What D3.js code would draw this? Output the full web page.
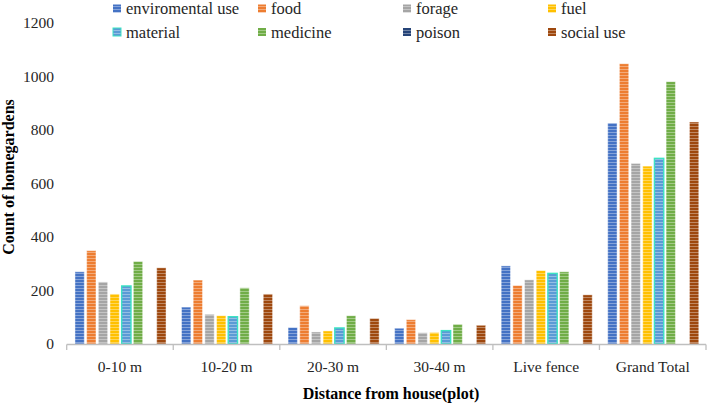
<!DOCTYPE html>
<html>
<head>
<meta charset="utf-8">
<script src="https://cdn.jsdelivr.net/npm/d3@7"></script>
<style>
  html, body { margin: 0; padding: 0; background: #fff; }
  svg { display: block; }
</style>
</head>
<body>
<svg id="chart" width="708" height="404"></svg>
<script>
// ---- data ----
const categories = ["0-10 m", "10-20 m", "20-30 m", "30-40 m", "Live fence", "Grand Total"];
const seriesNames = ["enviromental use", "food", "forage", "fuel", "material", "medicine", "poison", "social use"];
const enviromentalUse = [270, 138, 62, 59, 292, 826];
const food            = [349, 239, 143, 91, 219, 1048];
const forage          = [232, 111, 45, 42, 240, 675];
const fuel            = [187, 106, 49, 43, 275, 665];
const material        = [217, 102, 60, 50, 264, 694];
const medicine        = [309, 210, 106, 74, 270, 981];
const poison          = [0, 0, 0, 0, 0, 0];
const socialUse       = [285, 187, 96, 70, 184, 830];
const yTicks = [0, 200, 400, 600, 800, 1000, 1200];
const colors = ["#4472C4", "#ED7D31", "#A5A5A5", "#FFC000", "#5B9BD5", "#70AD47", "#264478", "#9E480E"];

const seriesValues = [enviromentalUse, food, forage, fuel, material, medicine, poison, socialUse];
const FONT = "'Liberation Serif', 'Times New Roman', serif";

const svg = d3.select("#chart");
const x0 = d3.scaleBand().domain(categories).range([66.7, 706]).padding(0);
const bw = x0.bandwidth();
const x1 = d3.scaleBand().domain(seriesNames).range([7.1, 7.1 + 93.4]).paddingInner(0.2).paddingOuter(0.1);
const y = d3.scaleLinear().domain([0, 1200]).range([344, 23]);

// stripe patterns
const defs = svg.append("defs");
seriesNames.forEach((s, i) => {
  const p = defs.append("pattern").attr("id", "pat" + i)
    .attr("patternUnits", "userSpaceOnUse").attr("width", 4).attr("height", 3);
  p.append("rect").attr("width", 4).attr("height", 3).attr("fill", colors[i]);
  p.append("rect").attr("y", 0).attr("width", 4).attr("height", 1).attr("fill", "#fff").attr("opacity", 0.35);
});

// bars
const groups = svg.append("g").selectAll("g").data(categories).join("g")
  .attr("transform", d => `translate(${x0(d)},0)`);
groups.each(function(cat, ci) {
  const g = d3.select(this);
  seriesNames.forEach((s, si) => {
    const v = seriesValues[si][ci];
    if (v <= 0) return;
    g.append("rect")
      .attr("x", x1(s)).attr("width", x1.bandwidth())
      .attr("y", y(v)).attr("height", y(0) - y(v))
      .attr("fill", `url(#pat${si})`)
      .attr("stroke", s === "material" ? "#3CE3C3" : "#fff")
      .attr("stroke-opacity", s === "material" ? 1 : 0.45)
      .attr("stroke-width", s === "material" ? 1.4 : 1);
  });
});

// x axis
const xAxis = svg.append("g");
xAxis.append("line").attr("x1", x0.range()[0]).attr("x2", x0.range()[1])
  .attr("y1", 344.5).attr("y2", 344.5).attr("stroke", "#BFBFBF").attr("stroke-width", 1.3);
const bounds = categories.map(c => x0(c)).concat([x0.range()[1]]);
xAxis.selectAll("line.tk").data(bounds).join("line").attr("class", "tk")
  .attr("x1", d => d).attr("x2", d => d).attr("y1", 344.5).attr("y2", 350)
  .attr("stroke", "#BFBFBF").attr("stroke-width", 1.3);
xAxis.selectAll("text").data(categories).join("text")
  .attr("x", d => x0(d) + bw / 2).attr("y", 372)
  .attr("text-anchor", "middle").attr("font-size", 15.5).attr("fill", "#262626")
  .attr("font-family", FONT)
  .text(d => d);

// y axis labels
svg.append("g").selectAll("text").data(yTicks).join("text")
  .attr("x", 54).attr("y", d => y(d) + 5)
  .attr("text-anchor", "end").attr("font-size", 15.5).attr("fill", "#262626")
  .attr("font-family", FONT)
  .text(d => d);

// axis titles
svg.append("text").attr("x", 391).attr("y", 398.5).attr("text-anchor", "middle")
  .attr("font-size", 16).attr("font-weight", "bold").attr("fill", "#000")
  .attr("font-family", FONT)
  .text("Distance from house(plot)");
svg.append("text").attr("transform", "translate(14,177) rotate(-90)").attr("text-anchor", "middle")
  .attr("font-size", 16).attr("font-weight", "bold").attr("fill", "#000")
  .attr("font-family", FONT)
  .text("Count of homegardens");

// legend
const legend = svg.append("g");
seriesNames.forEach((s, i) => {
  const col = i % 4, row = Math.floor(i / 4);
  const lx = 113 + col * 145, ly = 8.5 + row * 23.5;
  legend.append("rect").attr("x", lx).attr("y", ly - 4).attr("width", 8).attr("height", 8)
    .attr("fill", `url(#pat${i})`)
    .attr("stroke", s === "material" ? "#3CE3C3" : "none").attr("stroke-width", 1);
  legend.append("text").attr("x", lx + 13).attr("y", ly + 5.5)
    .attr("font-size", 16.5).attr("fill", "#262626")
    .attr("font-family", FONT)
    .text(s);
});
</script>
</body>
</html>
